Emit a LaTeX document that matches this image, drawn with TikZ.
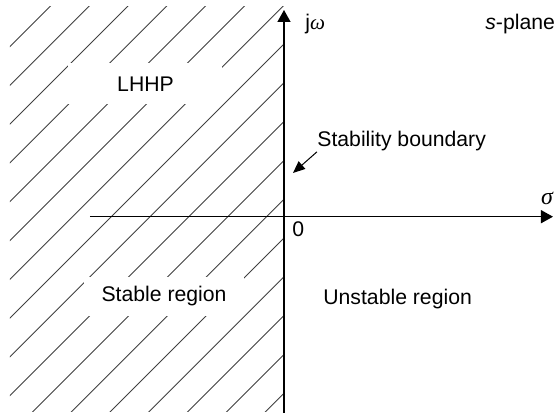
\documentclass[tikz,border=0pt]{standalone}
\usepackage{fontspec}
\setmainfont{Liberation Sans}
\newfontfamily\greekfont{Liberation Serif}
\usepackage{tikz}
\usetikzlibrary{positioning, arrows.meta}

\begin{document}
\begin{tikzpicture}[x=0.5pt, y=-0.5pt,
  axis/.style={line width=0.65pt, -{Triangle[length=6pt, width=6.5pt]}},
  hatch/.style={line width=0.45pt, black!75},
  lbl/.style={inner sep=0pt, font=\fontsize{10.6}{12.7}\selectfont},
  gap/.style={lbl, fill=white}]
\useasboundingbox (0,0) rectangle (554,415);

% Hatched left half plane
\begin{scope}
\clip (10,7) rectangle (284,412);
\foreach \k in {-7,...,9} {
  \pgfmathsetmacro\c{328+38.8*\k}
  \draw[hatch] ({\c-420},420) -- (\c,0);
}
\end{scope}

% Axes
\coordinate (ybot) at (284,413);
\coordinate (ytop) at (284,10);
\coordinate (xleft) at (90,216.7);
\coordinate (xright) at (553,216.7);
\draw[axis] (ybot) -- (ytop);
\draw[axis] (xleft) -- (xright);

% Region labels (white box cuts the hatching)
\node[gap, minimum width=77pt, minimum height=20.5pt] (lhhp) at (145.5,84) {LHHP};
\node[gap, minimum width=80pt, minimum height=19.5pt] (stable) at (164,296.5) {Stable region};
\node[lbl, anchor=base west] (unstable) at (323,305) {Unstable region};

% Axis labels
\node[lbl, anchor=base west] (jw) at (305,30) {j{\greekfont\itshape ω}};
\node[lbl, anchor=base west] (splane) at (485,30) {\textit{s}-plane};
\node[lbl, anchor=base, font=\fontsize{12}{14}\greekfont\itshape] (sigma) at (547,205) {σ};
\node[lbl, anchor=base west] (origin) at (292,237) {0};

% Boundary
\node[lbl, anchor=base west] (bound) at (317,147) {Stability boundary};
\coordinate (btip) at (293,173);
\draw[line width=0.5pt, -{Triangle[length=6pt, width=5pt]}] (bound.south west) -- (btip);

\end{tikzpicture}
\end{document}
